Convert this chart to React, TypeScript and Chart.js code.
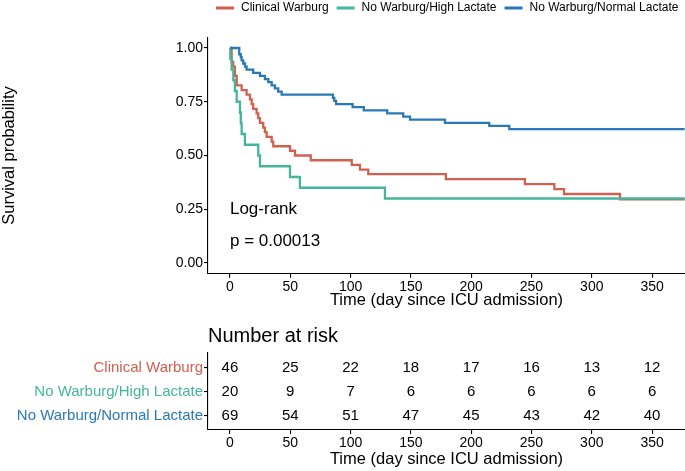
import React, { useEffect, useRef } from 'react';
import { Chart, registerables } from 'chart.js';

Chart.register(...registerables);

const FONT = '"Liberation Sans", Arial, Helvetica, sans-serif';

const groups = ['Clinical Warburg', 'No Warburg/High Lactate', 'No Warburg/Normal Lactate'];
const colors = ['#D1604F', '#45B69B', '#2A79B7'];

// Kaplan-Meier step points (time in days, survival probability)
const warburgTime = [0, 1.4, 2.7, 4.1, 5.6, 9.7, 13.8, 16.6, 18, 19.3, 22.1, 23.5, 24.9, 27.6, 29, 30.4, 34.6, 35.9, 49.8, 53.9, 67, 101, 107.8, 114.7, 179, 244.6, 269, 277, 323.4, 377];
const warburgSurv = [1, 0.935, 0.913, 0.87, 0.826, 0.804, 0.783, 0.761, 0.739, 0.717, 0.696, 0.674, 0.652, 0.63, 0.609, 0.587, 0.565, 0.543, 0.522, 0.5, 0.478, 0.456, 0.434, 0.413, 0.39, 0.367, 0.344, 0.321, 0.296, 0.296];

const highTime = [0, 0.3, 1.4, 2.8, 4.1, 5.6, 8.3, 9, 9.7, 12.4, 23.5, 24.9, 49.8, 58, 128.5, 377];
const highSurv = [1, 0.95, 0.9, 0.85, 0.8, 0.75, 0.7, 0.65, 0.6, 0.55, 0.5, 0.45, 0.4, 0.35, 0.3, 0.3];

const normalTime = [0, 7.7, 9, 9.7, 11, 12.5, 13.8, 19.3, 24.9, 29, 31.8, 34.6, 37.3, 40, 42.9, 85.4, 86.5, 88, 101.7, 111, 130.4, 143.7, 149.3, 178.3, 215, 231.6, 377];
const normalSurv = [1, 0.971, 0.957, 0.942, 0.928, 0.913, 0.899, 0.884, 0.87, 0.855, 0.841, 0.826, 0.812, 0.797, 0.783, 0.768, 0.754, 0.739, 0.725, 0.71, 0.696, 0.681, 0.667, 0.652, 0.638, 0.623, 0.623];

const riskTimes = [0, 50, 100, 150, 200, 250, 300, 350];
const riskWarburg = [46, 25, 22, 18, 17, 16, 13, 12];
const riskHigh = [20, 9, 7, 6, 6, 6, 6, 6];
const riskNormal = [69, 54, 51, 47, 45, 43, 42, 40];

const xTicks = [0, 50, 100, 150, 200, 250, 300, 350];
const yTicks = [0, 0.25, 0.5, 0.75, 1];
const rowTicks = [1, 2, 3];

const logRankLines = ['Log-rank', 'p = 0.00013'];

const X_MIN = -18.2;
const X_MAX = 377.3;

const times = [warburgTime, highTime, normalTime];
const survs = [warburgSurv, highSurv, normalSurv];
const risks = [riskWarburg, riskHigh, riskNormal];

const axisX = (height: number, title: string) => ({
  type: 'linear' as const,
  min: X_MIN,
  max: X_MAX,
  afterBuildTicks: (s: any) => {
    s.ticks = xTicks.map((v) => ({ value: v }));
  },
  afterFit: (s: any) => {
    s.height = height;
  },
  ticks: {
    color: '#000',
    font: { family: FONT, size: 14 },
    padding: 1,
    maxRotation: 0,
    autoSkip: false,
    callback: (v: any) => String(v),
  },
  grid: { drawOnChartArea: false, color: '#000', tickLength: 4, lineWidth: 1.1 },
  border: { color: '#000', width: 1.1 },
  title: {
    display: true,
    text: title,
    color: '#000',
    font: { family: FONT, size: 16.5 },
    padding: { top: 0, bottom: 2 },
  },
});

export default function App() {
  const mainRef = useRef<HTMLCanvasElement | null>(null);
  const riskRef = useRef<HTMLCanvasElement | null>(null);

  useEffect(() => {
    if (!mainRef.current || !riskRef.current) return;

    const mainPlugin = {
      id: 'kmDecor',
      afterDraw(chart: any) {
        const ctx = chart.ctx;
        ctx.save();
        // legend
        ctx.font = `12px ${FONT}`;
        ctx.textBaseline = 'middle';
        ctx.textAlign = 'left';
        let x = 216;
        const y = 8;
        chart.data.datasets.forEach((ds: any) => {
          ctx.strokeStyle = ds.borderColor;
          ctx.lineWidth = 3;
          ctx.beginPath();
          ctx.moveTo(x, y);
          ctx.lineTo(x + 18, y);
          ctx.stroke();
          ctx.fillStyle = '#000';
          ctx.fillText(ds.label, x + 25, y);
          x += 25 + ctx.measureText(ds.label).width + 8;
        });
        // log-rank annotation
        const xs = chart.scales.x;
        const ys = chart.scales.y;
        ctx.font = `17px ${FONT}`;
        ctx.fillStyle = '#000';
        ctx.fillText(logRankLines[0], xs.getPixelForValue(0), ys.getPixelForValue(0.25));
        ctx.fillText(logRankLines[1], xs.getPixelForValue(0), ys.getPixelForValue(0.1));
        ctx.restore();
      },
    };

    const main = new Chart(mainRef.current, {
      type: 'line',
      data: {
        datasets: groups.map((g, i) => ({
          label: g,
          data: times[i].map((t, j) => ({ x: t, y: survs[i][j] })),
          borderColor: colors[i],
          backgroundColor: colors[i],
          borderWidth: 2.3,
          pointRadius: 0,
          stepped: true,
          fill: false,
          order: 3 - i,
        })),
      },
      options: {
        animation: false,
        responsive: false,
        maintainAspectRatio: false,
        layout: { padding: { top: 37.25, left: 0, right: 0, bottom: 0 } },
        plugins: { legend: { display: false }, tooltip: { enabled: false }, title: { display: false } },
        scales: {
          x: axisX(312 - 273.75, 'Time (day since ICU admission)') as any,
          y: {
            type: 'linear',
            min: -0.05,
            max: 1.05,
            afterBuildTicks: (s: any) => {
              s.ticks = yTicks.map((v) => ({ value: v }));
            },
            afterFit: (s: any) => {
              s.width = 208;
            },
            ticks: {
              color: '#000',
              font: { family: FONT, size: 14 },
              padding: 1,
              callback: (v: any) => Number(v).toFixed(2),
            },
            grid: { drawOnChartArea: false, color: '#000', tickLength: 4, lineWidth: 1.1 },
            border: { color: '#000', width: 1.1 },
            title: {
              display: true,
              text: 'Survival probability',
              color: '#000',
              font: { family: FONT, size: 16.5 },
              padding: { top: 0, bottom: 0 },
            },
          } as any,
        },
      },
      plugins: [mainPlugin],
    });

    const riskPlugin = {
      id: 'riskDecor',
      afterDraw(chart: any) {
        const ctx = chart.ctx;
        ctx.save();
        ctx.font = `20px ${FONT}`;
        ctx.fillStyle = '#000';
        ctx.textAlign = 'left';
        ctx.textBaseline = 'middle';
        ctx.fillText('Number at risk', chart.chartArea.left, 18);
        ctx.font = `15px ${FONT}`;
        ctx.textAlign = 'center';
        chart.data.datasets.forEach((ds: any, i: number) => {
          const meta = chart.getDatasetMeta(i);
          meta.data.forEach((pt: any, j: number) => {
            ctx.fillText(String(ds.data[j].n), pt.x, pt.y);
          });
        });
        ctx.restore();
      },
    };

    const risk = new Chart(riskRef.current, {
      type: 'scatter',
      data: {
        datasets: groups.map((g, i) => ({
          label: g,
          data: riskTimes.map((t, j) => ({ x: t, y: i + 1, n: risks[i][j] })),
          pointRadius: 0,
          showLine: false,
        })) as any,
      },
      options: {
        animation: false,
        responsive: false,
        maintainAspectRatio: false,
        layout: { padding: { top: 35, left: 0, right: 0, bottom: 0 } },
        plugins: { legend: { display: false }, tooltip: { enabled: false }, title: { display: false } },
        scales: {
          x: axisX(41, 'Time (day since ICU admission)') as any,
          y: {
            type: 'linear',
            min: 0.4,
            max: 3.6,
            reverse: true,
            afterBuildTicks: (s: any) => {
              s.ticks = rowTicks.map((v) => ({ value: v }));
            },
            afterFit: (s: any) => {
              s.width = 208;
            },
            ticks: {
              font: { family: FONT, size: 15 },
              padding: 1,
              color: (c: any) => colors[Math.round(c.tick.value) - 1] || '#000',
              callback: (v: any) => groups[Math.round(Number(v)) - 1] || '',
            },
            grid: { drawOnChartArea: false, color: '#000', tickLength: 4, lineWidth: 1.1 },
            border: { color: '#000', width: 1.1 },
          } as any,
        },
      },
      plugins: [riskPlugin],
    });

    return () => {
      main.destroy();
      risk.destroy();
    };
  }, []);

  return (
    <div style={{ position: 'fixed', left: 0, top: 0, width: 685, height: 471, background: '#fff' }}>
      <canvas
        ref={mainRef}
        width={685}
        height={312}
        style={{ position: 'absolute', left: 0, top: 0, width: 685, height: 312 }}
      />
      <canvas
        ref={riskRef}
        width={685}
        height={153}
        style={{ position: 'absolute', left: 0, top: 318, width: 685, height: 153 }}
      />
    </div>
  );
}
